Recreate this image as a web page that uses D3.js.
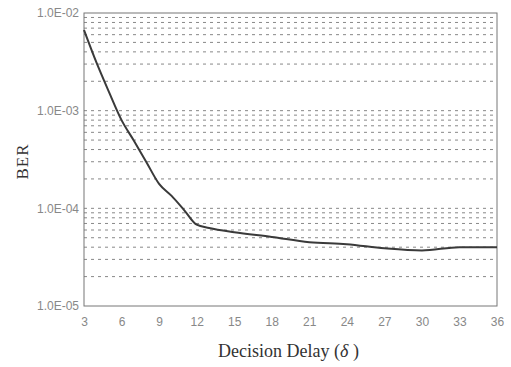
<!DOCTYPE html>
<html>
<head>
<meta charset="utf-8">
<script src="https://cdn.jsdelivr.net/npm/d3@7/dist/d3.min.js"></script>
<style>
  body { margin: 0; background: #fff; }
  .tick text { fill: #888; font-family: "Liberation Sans", Arial, sans-serif; font-size: 12px; }
</style>
</head>
<body>
<svg id="chart" width="511" height="367"></svg>
<script>
// decision delay values (x) and BER
let delay = [3, 4, 5, 6, 7, 8, 9, 10, 11, 12, 13, 15, 18, 21, 24, 27, 30, 33, 36];
let ber = [6.7e-3, 3.1e-3, 1.55e-3, 8.0e-4, 4.9e-4, 2.95e-4, 1.78e-4, 1.34e-4, 9.6e-5, 6.8e-5,
           6.3e-5, 5.7e-5, 5.1e-5, 4.5e-5, 4.3e-5, 3.9e-5, 3.7e-5, 4.0e-5, 4.0e-5];
let xTicks = [3, 6, 9, 12, 15, 18, 21, 24, 27, 30, 33, 36];
let yTicks = [1e-5, 1e-4, 1e-3, 1e-2];
let yTickLabels = ["1.0E-05", "1.0E-04", "1.0E-03", "1.0E-02"];

let margin = {top: 13, right: 14, bottom: 61, left: 84},
    width = 511 - margin.left - margin.right,
    height = 367 - margin.top - margin.bottom;

let svg = d3.select("#chart")
  .append("g")
    .attr("transform", "translate(" + margin.left + "," + margin.top + ")");

let x = d3.scaleLinear().domain([3, 36]).range([0, width]);
let y = d3.scaleLog().domain([1e-5, 1e-2]).range([height, 0]);

// dashed grid lines at every minor step of each decade
let gridVals = [];
[1e-5, 1e-4, 1e-3].forEach(function(d) {
  for (let k = 1; k <= 10; k++) {
    let v = d * k;
    if (v > 1e-5 && v < 1e-2) gridVals.push(v);
  }
});
gridVals = Array.from(new Set(gridVals.map(v => +v.toPrecision(3))));

svg.append("g")
  .selectAll("line")
  .data(gridVals)
  .join("line")
    .attr("x1", 0)
    .attr("x2", width)
    .attr("y1", d => y(d))
    .attr("y2", d => y(d))
    .attr("stroke", "#888")
    .attr("stroke-width", 1)
    .attr("stroke-dasharray", "3,4");

// plot frame
svg.append("rect")
  .attr("width", width)
  .attr("height", height)
  .attr("fill", "none")
  .attr("stroke", "#777")
  .attr("stroke-width", 1);

// axes
let xAxis = d3.axisBottom(x).tickValues(xTicks).tickSize(0).tickPadding(11);
let yAxis = d3.axisLeft(y).tickValues(yTicks).tickSize(0).tickPadding(5)
  .tickFormat((d, i) => yTickLabels[i]);

svg.append("g")
  .attr("class", "x axis")
  .attr("transform", "translate(0," + height + ")")
  .call(xAxis)
  .call(g => g.select(".domain").remove());

svg.append("g")
  .attr("class", "y axis")
  .call(yAxis)
  .call(g => g.select(".domain").remove());

// BER curve
let line = d3.line()
  .x((d, i) => x(delay[i]))
  .y(d => y(d))
  .curve(d3.curveMonotoneX);

svg.append("path")
  .datum(ber)
  .attr("d", line)
  .attr("fill", "none")
  .attr("stroke", "#3a3a3a")
  .attr("stroke-width", 2)
  .attr("stroke-linejoin", "round");

// axis titles
let title = d3.select("#chart").append("text")
  .attr("x", margin.left + width / 2 - 2)
  .attr("y", 357)
  .attr("text-anchor", "middle")
  .attr("font-family", "'Liberation Serif', 'Times New Roman', serif")
  .attr("font-size", 18)
  .attr("fill", "#333");
title.append("tspan").text("Decision Delay (");
title.append("tspan").attr("font-style", "italic").text("δ");
title.append("tspan").text(" )");

d3.select("#chart").append("text")
  .attr("transform", "translate(28," + (margin.top + height / 2 + 2) + ") rotate(-90)")
  .attr("text-anchor", "middle")
  .attr("font-family", "'Liberation Serif', 'Times New Roman', serif")
  .attr("font-size", 17)
  .attr("letter-spacing", 1)
  .attr("fill", "#333")
  .text("BER");
</script>
</body>
</html>
